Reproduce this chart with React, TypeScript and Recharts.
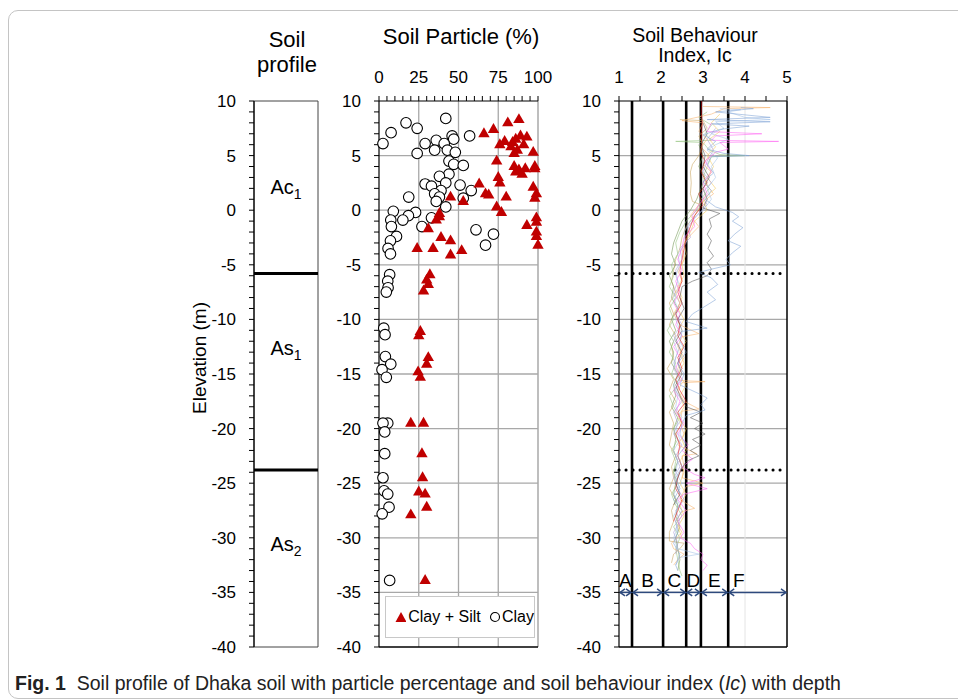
import React from 'react';
import {
  ComposedChart,
  Scatter,
  XAxis,
  YAxis,
  ReferenceLine,
  ReferenceArea,
  ReferenceDot,
} from 'recharts';

const FONT = '"Liberation Sans", Arial, Helvetica, sans-serif';

// elevation axis (m), shared by the three panels
const elevMajor = [10, 5, 0, -5, -10, -15, -20, -25, -30, -35, -40];
const elevMinor = Array.from({ length: 51 }, (_, i) => 10 - i);
const gridElev = [5, 0, -5, -10, -15, -20, -25, -30, -35];

// soil profile column
const layerBounds = [-5.8, -23.8];
const layerNames = ['Ac', 'As', 'As'];
const layerSubs = ['1', '1', '2'];
const layerLabelElev = [2.1, -12.6, -30.6];

// soil particle (%)
const pctMajor = [0, 25, 50, 75, 100];
const pctMinor = [0, 5, 10, 15, 20, 25, 30, 35, 40, 45, 50, 55, 60, 65, 70, 75, 80, 85, 90, 95, 100];
const pctGrid = [25, 50, 75];

// [percent, elevation]
const clay = [
  [42, 8.4], [17, 8.0], [24, 7.5], [7.6, 7.1], [46, 6.8], [57, 6.8], [2.5, 6.1], [36, 6.4],
  [47, 6.5], [29, 6.1], [41, 6.1], [24, 5.2], [35, 5.5], [43, 5.5], [48, 5.3], [44, 4.5],
  [47, 4.2], [53, 4.1], [44, 3.3], [38, 3.1], [29, 2.4], [33, 2.2], [42, 2.5], [51, 2.3],
  [58, 1.8], [39, 1.8], [35, 1.5], [38, 1.2], [36, 0.8], [53, 1.1], [18.7, 1.2], [42, 0.3],
  [9, -0.1], [23, -0.2], [18.5, -0.5], [7.4, -0.9], [15, -0.9], [33, -0.7], [7.8, -1.5],
  [27, -1.5], [11, -2.4], [7.2, -2.8], [61, -1.8], [72, -2.2], [67, -3.2], [5.7, -3.5],
  [7.2, -4.0], [6.7, -5.9], [5.5, -6.5], [5.7, -7.1], [4.6, -7.5], [3, -10.8], [3.8, -11.4],
  [4, -13.4], [7.4, -14.1], [1.9, -14.6], [4.6, -15.3], [5.5, -19.5], [2.5, -19.5],
  [3.6, -20.3], [3.6, -22.3], [2.5, -24.5], [3.2, -25.7], [5.5, -26.0], [6.3, -27.2],
  [2, -27.8], [6.7, -33.9],
];

const claySilt = [
  [88, 8.3], [81, 8.0], [72, 7.4], [66, 7.0], [89, 6.8], [93, 6.7], [79, 6.3], [84, 6.2],
  [76, 6.0], [87, 5.5], [97, 5.3], [85, 5.2], [74, 4.5], [85, 4.0], [88, 3.7], [98, 4.0],
  [90, 3.3], [75, 3.0], [76, 2.5], [63, 2.4], [67, 1.5], [69, 1.4], [80, 1.2], [97, 2.1],
  [99, 1.5], [98, 1.1], [45, 1.2], [53, 0.8], [74, 0.3], [77, -0.2], [38, -0.3], [38, -0.6],
  [36, -0.9], [31, -1.7], [99, -0.7], [99, -1.1], [93, -1.4], [99, -2.0], [99, -2.4],
  [39, -2.5], [45, -2.8], [24, -3.5], [34, -3.5], [52, -3.7], [45, -4.1], [100, -3.2],
  [86, 6.5], [91, 6.0], [83, 5.8], [92, 3.8], [86, 3.5], [98, 3.8],
  [32, -5.9], [30, -6.4], [31, -6.8], [28, -7.4], [26, -11.1], [25, -11.5], [31, -13.5],
  [30, -14.1], [24.6, -14.8], [26, -15.3], [20, -19.5], [28, -19.5], [27, -22.3],
  [27.4, -24.5], [25, -25.8], [29, -26.0], [30, -27.2], [20, -27.9], [29, -33.9],
];

// soil behaviour index
const icMajor = [1, 2, 3, 4, 5];
const icMinor = [1, 1.5, 2, 2.5, 3, 3.5, 4, 4.5, 5];
const zoneBounds = [1.31, 2.05, 2.6, 2.95, 3.6];
const zoneEdges = [1, 1.31, 2.05, 2.6, 2.95, 3.6, 5];
const zoneLetters = ['A', 'B', 'C', 'D', 'E', 'F'];
const zoneLetterIc = [1.15, 1.68, 2.32, 2.77, 3.27, 3.85];
const arrowElev = -35;

// CPT traces, [elevation, Ic]
const icBlue = [
  [9.4, 3.9], [9.3, 4.2], [9.0, 3.3], [8.5, 4.6], [8.3, 3.1], [8.1, 4.6], [7.9, 3.2], [7.7, 4.1],
  [7.4, 3.4], [6.9, 3.0], [6.3, 3.3], [5.6, 3.1], [5.2, 3.5], [5.0, 4.1], [4.9, 3.2], [4.2, 3.1],
  [3.4, 3.25], [2.6, 3.0], [1.8, 3.2], [1.0, 3.05], [0.3, 3.3], [-0.2, 3.7], [-0.6, 3.85],
  [-1.0, 3.7], [-1.6, 3.95], [-2.2, 3.75], [-2.8, 3.6], [-3.3, 3.9], [-3.9, 3.7], [-4.5, 3.55],
  [-5.0, 3.65], [-5.4, 3.2], [-5.7, 2.9], [-6.2, 3.2], [-6.8, 3.35], [-7.5, 3.1], [-8.2, 3.3],
  [-8.8, 3.05], [-9.5, 2.75], [-10.2, 2.6], [-10.8, 3.1], [-11.1, 2.5], [-12, 2.45], [-13, 2.6],
  [-14, 2.4], [-15, 2.55], [-16, 2.45], [-16.8, 2.9], [-17.2, 3.1], [-17.8, 2.95], [-18.3, 3.05],
  [-18.8, 2.6], [-19.5, 2.5], [-20.5, 2.45], [-21.5, 2.6], [-22.5, 2.4], [-23.5, 2.5],
  [-24.5, 2.35], [-25.5, 2.45], [-26.5, 2.3], [-27.5, 2.5], [-28.5, 2.35], [-29.5, 2.4],
  [-30.5, 2.3], [-31.5, 2.45], [-32.5, 2.35], [-33, 2.4],
];

const icBlack = [
  [8.0, 3.0], [7.0, 3.1], [6.0, 2.95], [5.0, 3.05], [4.0, 3.0], [3.0, 3.15], [2.0, 3.0],
  [1.0, 3.1], [0.2, 3.0], [-0.3, 3.4], [-0.8, 3.15], [-1.5, 3.2], [-2.2, 3.1], [-2.8, 3.2],
  [-3.5, 3.12], [-4.2, 3.25], [-4.8, 3.1], [-5.4, 3.2], [-6.0, 3.1], [-6.5, 2.75], [-7.0, 2.5],
  [-8, 2.45], [-9, 2.55], [-10, 2.4], [-11, 2.5], [-12, 2.35], [-13, 2.5], [-14, 2.4],
  [-15, 2.5], [-16, 2.35], [-17, 2.45], [-18, 2.6], [-18.5, 2.95], [-19, 2.7], [-19.5, 3.0],
  [-20, 2.8], [-20.5, 3.05], [-21, 2.75], [-21.5, 2.95], [-22, 2.7], [-22.5, 2.9], [-23, 2.6],
  [-24, 2.45], [-25, 2.35], [-26, 2.45], [-27, 2.3],
];

const icRed = [
  [10, 2.97], [9, 2.96], [8, 2.98], [7, 2.96], [6, 2.97], [5.2, 2.95], [4.5, 3.05], [3.5, 2.95],
  [2.5, 3.1], [1.5, 2.9], [0.5, 3.0], [-0.5, 2.8], [-1.5, 2.7], [-2.5, 2.6], [-3.5, 2.55],
  [-4.5, 2.5], [-5.5, 2.45], [-6.5, 2.5], [-7.5, 2.4], [-8.5, 2.5], [-9.5, 2.35], [-10.5, 2.45],
  [-11.5, 2.4], [-12.5, 2.55], [-13.5, 2.4], [-14.5, 2.5], [-15.5, 2.35], [-16.5, 2.45],
  [-17.5, 2.6], [-18.5, 2.4], [-19.5, 2.5], [-20.5, 2.35], [-21.5, 2.45], [-22.5, 2.4],
  [-23.5, 2.5], [-24.5, 2.4], [-25.5, 2.35], [-26.5, 2.5], [-27.5, 2.4], [-28.5, 2.3],
];

const icOrange = [
  [9.5, 3.0], [9.4, 4.6], [9.3, 3.5], [8.8, 3.2], [8.2, 2.5], [8.0, 3.0], [7.2, 2.9], [6.5, 3.1],
  [5.8, 2.95], [5.0, 3.15], [4.2, 3.0], [3.5, 3.2], [2.5, 3.05], [1.5, 3.25], [0.5, 2.9],
  [-0.5, 2.7], [-1.5, 2.9], [-2.5, 2.65], [-3.5, 2.5], [-4.5, 2.55], [-5.5, 2.4], [-6.5, 2.5],
  [-7.5, 2.35], [-8.5, 2.45], [-9.5, 2.3], [-10.5, 2.45], [-11.3, 2.9], [-11.6, 2.5],
  [-12.5, 2.4], [-13.5, 2.55], [-14.5, 2.4], [-15.6, 2.45], [-15.7, 3.05], [-15.8, 2.5],
  [-16.5, 2.4], [-17.5, 2.55], [-18.2, 2.9], [-18.4, 2.5], [-19.5, 2.45], [-20.5, 2.55],
  [-21.5, 2.4], [-22.3, 2.85], [-22.5, 2.5], [-23.5, 2.55], [-24.5, 2.5], [-25.0, 3.0],
  [-25.3, 2.6], [-26.5, 2.45], [-27.3, 2.8], [-27.6, 2.5], [-28.5, 2.35], [-29.5, 2.5],
  [-30.5, 2.25], [-31.0, 2.3], [-31.5, 2.55], [-32, 2.4], [-32.5, 2.3],
];

const icOlive = [
  [8.3, 2.45], [8.2, 3.0], [7.5, 3.1], [6.8, 2.9], [6.0, 3.0], [5.0, 2.9], [4.2, 2.75],
  [3.5, 2.7], [2.5, 2.72], [1.5, 2.7], [0.8, 2.75], [0.5, 2.95], [-0.5, 2.8], [-1.5, 2.6],
  [-2.5, 2.5], [-3.5, 2.45], [-4.5, 2.35], [-5.5, 2.3], [-6.5, 2.25], [-7.5, 2.35], [-8.5, 2.2],
  [-9.5, 2.3], [-10.5, 2.2], [-11.5, 2.35], [-12.5, 2.25], [-13.5, 2.3], [-14.5, 2.15],
  [-15.5, 2.3], [-16.5, 2.2], [-17.5, 2.35], [-18.5, 2.2], [-19.5, 2.3], [-20.5, 2.25],
  [-21.5, 2.2], [-22.5, 2.35], [-23.5, 2.25], [-24.5, 2.3], [-25.5, 2.2], [-26.5, 2.35],
  [-27.5, 2.25], [-28.5, 2.3], [-29.5, 2.2], [-30.3, 2.2], [-30.5, 2.55], [-31, 2.45],
  [-31.5, 2.3], [-32.3, 2.25],
];

const icGreen = [
  [9.0, 3.1], [8.5, 2.9], [7.8, 3.2], [7.0, 3.05], [6.4, 3.2], [6.3, 2.35], [6.2, 3.0],
  [5.5, 3.15], [5.1, 3.4], [5.0, 4.0], [4.9, 3.2], [4.0, 3.1], [3.0, 3.0], [2.0, 3.15],
  [1.0, 2.95], [0.0, 2.85], [-1.0, 2.6], [-2.0, 2.45], [-3.0, 2.35], [-4.0, 2.4], [-5.0, 2.25],
  [-6.0, 2.3], [-7.0, 2.2], [-8.0, 2.35], [-9.0, 2.2], [-10.0, 2.3], [-11.0, 2.15], [-12.0, 2.3],
  [-13.0, 2.2], [-14.0, 2.35], [-15.0, 2.25], [-16.0, 2.4], [-17.0, 2.2], [-18.0, 2.3],
  [-19.0, 2.45], [-20.0, 2.3], [-21.0, 2.4], [-22.0, 2.25], [-23.0, 2.35], [-24.0, 2.3],
  [-25.0, 2.4], [-26.0, 2.25], [-27.0, 2.35], [-28.0, 2.5], [-29.0, 2.3], [-30.0, 2.45],
  [-31.0, 2.35], [-32.0, 2.4], [-33.0, 2.45], [-33.5, 2.5],
];

const icMagenta = [
  [8.0, 3.2], [7.2, 3.1], [7.0, 4.4], [6.8, 3.3], [6.4, 3.2], [6.3, 4.8], [6.2, 3.4], [5.6, 3.6],
  [5.3, 3.3], [4.5, 3.05], [3.5, 3.2], [2.5, 3.0], [1.5, 3.1], [0.5, 2.9], [-0.5, 2.75],
  [-1.5, 2.8], [-2.5, 2.55], [-3.5, 2.5], [-4.5, 2.4], [-5.5, 2.5], [-6.5, 2.35], [-7.5, 2.45],
  [-8.5, 2.3], [-9.5, 2.45], [-10.5, 2.35], [-11.5, 2.5], [-12.5, 2.3], [-13.5, 2.45],
  [-14.5, 2.35], [-15.5, 2.5], [-16.5, 2.3], [-17.5, 2.45], [-18.5, 2.35], [-19.5, 2.55],
  [-20.5, 2.4], [-21.5, 2.65], [-22.0, 2.5], [-22.8, 2.75], [-23.5, 2.5], [-24.2, 2.8],
  [-24.5, 3.05], [-25.0, 2.6], [-25.5, 3.1], [-26.0, 2.55], [-26.5, 2.4], [-27.5, 2.6],
  [-28.5, 2.4], [-29.5, 2.55], [-30.0, 2.45], [-30.5, 2.7], [-31.0, 2.8], [-31.5, 3.0],
  [-32.0, 2.95], [-32.5, 3.1], [-33.0, 3.0],
];

const icLightBlue = [
  [9.3, 3.4], [9.2, 3.9], [9.0, 3.6], [8.5, 4.0], [8.3, 4.6], [8.1, 3.3], [7.5, 3.5], [7.0, 3.2],
  [6.5, 3.6], [6.0, 3.3], [5.5, 3.1], [4.8, 3.35], [4.0, 3.2], [3.0, 3.3], [2.0, 3.1],
  [1.0, 3.2], [0.0, 3.0], [-1.0, 2.7], [-2.0, 2.55], [-3.0, 2.6], [-4.0, 2.4], [-5.0, 2.45],
  [-6.0, 2.35], [-7.0, 2.45], [-8.0, 2.3], [-9.0, 2.4], [-10.0, 2.35], [-11.0, 2.45],
  [-12.0, 2.3], [-13.0, 2.4], [-14.0, 2.3], [-15.0, 2.45], [-16.0, 2.3], [-17.0, 2.4],
  [-18.0, 2.35], [-19.0, 2.5], [-20.0, 2.35], [-21.0, 2.45], [-22.0, 2.3], [-23.0, 2.4],
  [-24.0, 2.35], [-25.0, 2.5], [-26.0, 2.3], [-27.0, 2.45], [-28.0, 2.3], [-29.0, 2.4],
  [-30.0, 2.3], [-31.0, 2.4], [-31.5, 2.9], [-31.8, 2.45], [-32.5, 2.35],
];

const icDarkGreen = [
  [6.0, 2.9], [5.0, 3.0], [4.0, 2.9], [3.0, 3.05], [2.0, 2.95], [1.0, 2.85], [0.0, 2.7],
  [-1.0, 2.5], [-2.0, 2.4], [-3.0, 2.3], [-4.0, 2.25], [-5.0, 2.35], [-6.0, 2.2], [-7.0, 2.3],
  [-8.0, 2.25], [-9.0, 2.4], [-10.0, 2.25], [-11.0, 2.35], [-12.0, 2.2], [-13.0, 2.3],
  [-14.0, 2.25], [-15.0, 2.4], [-16.0, 2.3], [-17.0, 2.35], [-18.0, 2.25], [-19.0, 2.4],
  [-20.0, 2.3], [-21.0, 2.35], [-22.0, 2.3], [-23.0, 2.4], [-24.0, 2.3], [-25.0, 2.35],
  [-26.0, 2.3], [-27.0, 2.4], [-28.0, 2.35], [-29.0, 2.45], [-30.0, 2.35], [-31.0, 2.4],
  [-32.0, 2.45], [-33.0, 2.4],
];

const icPurple = [
  [7.5, 3.3], [6.5, 3.1], [5.5, 3.25], [4.5, 3.1], [3.5, 3.0], [2.5, 3.2], [1.5, 2.95],
  [0.5, 3.1], [-0.5, 2.85], [-1.5, 2.65], [-2.5, 2.7], [-3.5, 2.45], [-4.5, 2.5], [-5.5, 2.35],
  [-6.5, 2.4], [-7.5, 2.3], [-8.5, 2.45], [-9.5, 2.35], [-10.5, 2.5], [-11.5, 2.3],
  [-12.5, 2.45], [-13.5, 2.35], [-14.5, 2.3], [-15.5, 2.45], [-16.5, 2.35], [-17.5, 2.5],
  [-18.5, 2.3], [-19.5, 2.4], [-20.5, 2.3], [-21.5, 2.5], [-22.5, 2.35], [-23.5, 2.45],
  [-24.5, 2.3], [-25.5, 2.4], [-26.5, 2.55], [-27.5, 2.35], [-28.5, 2.45], [-29.5, 2.3],
  [-30.5, 2.4], [-31.5, 2.35],
];

const icYellow = [
  [8.8, 3.4], [8.0, 3.2], [7.2, 3.4], [6.5, 3.15], [5.8, 3.3], [5.0, 3.1], [4.0, 3.25],
  [3.0, 3.1], [2.0, 3.3], [1.0, 3.0], [0.0, 3.1], [-1.0, 2.8], [-2.0, 2.7], [-3.0, 2.55],
  [-4.0, 2.6], [-5.0, 2.5], [-6.0, 2.55], [-7.0, 2.4], [-8.0, 2.5], [-9.0, 2.4], [-10.0, 2.55],
  [-11.0, 2.4], [-12.0, 2.6], [-13.0, 2.45], [-14.0, 2.55], [-15.0, 2.4], [-16.0, 2.6],
  [-17.0, 2.45], [-18.0, 2.55], [-19.0, 2.4], [-20.0, 2.6], [-21.0, 2.5], [-22.0, 2.6],
  [-23.0, 2.45], [-24.0, 2.55], [-25.0, 2.45], [-26.0, 2.6], [-27.0, 2.45], [-28.0, 2.55],
  [-29.0, 2.4], [-30.0, 2.5],
];

const icTraces = [
  { name: 'olive', color: '#c9a45c', data: icOlive },
  { name: 'yellow', color: '#f3c95a', data: icYellow },
  { name: 'darkgreen', color: '#6f9450', data: icDarkGreen },
  { name: 'green', color: '#93c47d', data: icGreen },
  { name: 'purple', color: '#a898d8', data: icPurple },
  { name: 'orange', color: '#f6b26b', data: icOrange },
  { name: 'lightblue', color: '#a4c2e8', data: icLightBlue },
  { name: 'red', color: '#e01010', data: icRed },
  { name: 'magenta', color: '#ff66f2', data: icMagenta },
  { name: 'black', color: '#555', data: icBlack },
  { name: 'blue', color: '#7fa3d6', data: icBlue },
];

const toXY = (pairs: number[][]) => pairs.map(([x, y]) => ({ x, y }));
const toXYflip = (pairs: number[][]) => pairs.map(([y, x]) => ({ x, y }));
const layerLabelPts = layerNames.map((n, i) => ({ x: 0.5, y: layerLabelElev[i], n, s: layerSubs[i] }));

const gridGray = '#a8a8a8';

const elevAxis = (width: number) => (
  <YAxis
    type="number"
    dataKey="y"
    domain={[-40, 10]}
    ticks={elevMinor}
    interval={0}
    allowDataOverflow
    tickFormatter={(v: number) => (elevMajor.includes(v) ? String(v) : '')}
    width={width}
    tickSize={5}
    tickMargin={13}
    axisLine={{ stroke: '#000', strokeWidth: 1.2 }}
    tickLine={{ stroke: '#000' }}
    tick={{ fontSize: 17, fill: '#000' }}
  />
);

const CircleShape = (p: any) => (
  <circle cx={p.cx} cy={p.cy} r={5.3} fill="#fff" stroke="#000" strokeWidth={1.1} />
);

const TriangleShape = (p: any) => (
  <polygon
    points={`${p.cx},${p.cy - 6.4} ${p.cx - 5.7},${p.cy + 3.5} ${p.cx + 5.7},${p.cy + 3.5}`}
    fill="#c00000"
  />
);

const LayerLabel = (p: any) => (
  <text x={p.cx} y={p.cy + 7} textAnchor="middle" fontSize={20} fill="#000">
    {p.payload.n}
    <tspan fontSize={14} dy={5}>
      {p.payload.s}
    </tspan>
  </text>
);

const NoShape = () => <g />;

const ArrowShape = (p: any) => {
  const { x1, y1, x2 } = p;
  const c = '#2e4a7d';
  return (
    <g stroke={c} strokeWidth={1.5} fill="none">
      <line x1={x1 + 1} y1={y1} x2={x2 - 1} y2={y1} />
      <polyline points={`${x1 + 6},${y1 - 3.5} ${x1 + 1},${y1} ${x1 + 6},${y1 + 3.5}`} />
      <polyline points={`${x2 - 6},${y1 - 3.5} ${x2 - 1},${y1} ${x2 - 6},${y1 + 3.5}`} />
    </g>
  );
};

const DottedLine = (p: any) => (
  <line
    x1={p.x1}
    y1={p.y1}
    x2={p.x2}
    y2={p.y2}
    stroke="#000"
    strokeWidth={3}
    strokeDasharray="0.1 6.9"
    strokeLinecap="round"
  />
);

const SoilProfile = () => (
  <ComposedChart width={139} height={660} margin={{ top: 101, right: 1, bottom: 13, left: 0 }}>
    <XAxis type="number" dataKey="x" domain={[0, 1]} hide />
    {elevAxis(74)}
    <ReferenceArea x1={0} x2={1} y1={-40} y2={10} fill="none" stroke="#444" strokeWidth={1} />
    {layerBounds.map((b) => (
      <ReferenceLine key={b} y={b} stroke="#000" strokeWidth={3} />
    ))}
    <Scatter data={layerLabelPts} shape={LayerLabel} isAnimationActive={false} />
  </ComposedChart>
);

const ParticlePanel = () => (
  <ComposedChart width={222} height={660} margin={{ top: 71, right: 18, bottom: 13, left: 0 }}>
    <XAxis
      type="number"
      dataKey="x"
      orientation="top"
      domain={[0, 100]}
      ticks={pctMinor}
      interval={0}
      tickFormatter={(v: number) => (pctMajor.includes(v) ? String(v) : '')}
      height={30}
      tickSize={5}
      tickMargin={13}
      axisLine={{ stroke: '#000', strokeWidth: 1.2 }}
      tickLine={{ stroke: '#000' }}
      tick={{ fontSize: 17, fill: '#000' }}
    />
    {elevAxis(45)}
    {gridElev.map((g) => (
      <ReferenceLine key={'h' + g} y={g} stroke={gridGray} strokeWidth={1.3} />
    ))}
    {pctGrid.map((g) => (
      <ReferenceLine key={'v' + g} x={g} stroke={gridGray} strokeWidth={1.3} />
    ))}
    <ReferenceLine x={100} stroke={gridGray} strokeWidth={1.5} />
    <ReferenceLine y={-40} stroke="#000" strokeWidth={1.5} />
    <Scatter data={toXY(clay)} shape={CircleShape} isAnimationActive={false} />
    <Scatter data={toXY(claySilt)} shape={TriangleShape} isAnimationActive={false} />
  </ComposedChart>
);

const IcPanel = () => (
  <ComposedChart width={225} height={660} margin={{ top: 71, right: 12, bottom: 13, left: 0 }}>
    <XAxis
      type="number"
      dataKey="x"
      orientation="top"
      domain={[1, 5]}
      ticks={icMinor}
      interval={0}
      allowDataOverflow
      tickFormatter={(v: number) => (icMajor.includes(v) ? String(v) : '')}
      height={30}
      tickSize={5}
      tickMargin={13}
      axisLine={{ stroke: '#000', strokeWidth: 1.2 }}
      tickLine={{ stroke: '#000' }}
      tick={{ fontSize: 17, fill: '#000' }}
    />
    {elevAxis(45)}
    {gridElev.map((g) => (
      <ReferenceLine key={'h' + g} y={g} stroke={gridGray} strokeWidth={1.3} />
    ))}
    <ReferenceLine x={4} stroke="#e4e4e4" strokeWidth={1} />
    {icTraces.map((t) => (
      <Scatter
        key={t.name}
        data={toXYflip(t.data)}
        fill={t.color}
        shape={NoShape}
        line={{ stroke: t.color, strokeWidth: 0.7, strokeOpacity: 0.8 }}
        isAnimationActive={false}
      />
    ))}
    {zoneBounds.map((b) => (
      <ReferenceLine key={'z' + b} x={b} stroke="#000" strokeWidth={2.6} />
    ))}
    <ReferenceLine x={5} stroke="#000" strokeWidth={1.5} />
    <ReferenceLine y={-40} stroke="#000" strokeWidth={1.5} />
    {layerBounds.map((b) => (
      <ReferenceLine key={'d' + b} y={b} shape={DottedLine} />
    ))}
    {zoneLetters.map((l, i) => (
      <ReferenceLine
        key={'a' + l}
        segment={[
          { x: zoneEdges[i], y: arrowElev },
          { x: zoneEdges[i + 1], y: arrowElev },
        ]}
        shape={ArrowShape}
      />
    ))}
    {zoneLetters.map((l, i) => (
      <ReferenceDot
        key={'l' + l}
        x={zoneLetterIc[i]}
        y={arrowElev}
        r={0}
        shape={(p: any) => (
          <text x={p.cx} y={p.cy - 5} textAnchor="middle" fontSize={19} fill="#000">
            {l}
          </text>
        )}
      />
    ))}
  </ComposedChart>
);

const abs = (left: number, top: number): React.CSSProperties => ({ position: 'absolute', left, top });

const LegendBox = () => (
  <div
    style={{
      position: 'absolute',
      left: 385,
      top: 596,
      width: 150,
      height: 42,
      boxSizing: 'border-box',
      border: '1.5px solid #c8c8c8',
      background: '#fff',
      display: 'flex',
      alignItems: 'center',
      fontSize: 16,
      whiteSpace: 'nowrap',
    }}
  >
    <svg width={12} height={12} style={{ marginLeft: 9, marginRight: 2 }}>
      <polygon points="6,1 0.5,11 11.5,11" fill="#c00000" />
    </svg>
    <span>Clay + Silt</span>
    <svg width={12} height={12} style={{ marginLeft: 8, marginRight: 2 }}>
      <circle cx={6} cy={6} r={4.5} fill="#fff" stroke="#000" strokeWidth={1.1} />
    </svg>
    <span>Clay</span>
  </div>
);

export default function App() {
  return (
    <div
      style={{
        position: 'absolute',
        left: 0,
        top: 0,
        width: 958,
        height: 700,
        overflow: 'hidden',
        background: '#fff',
        fontFamily: FONT,
        color: '#000',
      }}
    >
      <div
        style={{
          position: 'absolute',
          left: 8,
          top: 10,
          width: 990,
          height: 687,
          border: '1px solid #c4c4c4',
          borderRadius: 10,
        }}
      />
      <div style={{ ...abs(287, 27), transform: 'translateX(-50%)', textAlign: 'center', fontSize: 22, lineHeight: '25px' }}>
        Soil
        <br />
        profile
      </div>
      <div style={{ ...abs(461, 25), transform: 'translateX(-50%)', fontSize: 22, lineHeight: '24px', whiteSpace: 'nowrap' }}>
        Soil Particle (%)
      </div>
      <div style={{ ...abs(695, 25), transform: 'translateX(-50%)', textAlign: 'center', fontSize: 19.5, lineHeight: '20px', whiteSpace: 'nowrap' }}>
        Soil Behaviour
        <br />
        Index, Ic
      </div>
      <div
        style={{
          ...abs(200, 358),
          transform: 'translate(-50%, -50%) rotate(-90deg)',
          fontSize: 19,
          whiteSpace: 'nowrap',
        }}
      >
        Elevation (m)
      </div>
      <div style={abs(180, 0)}>
        <SoilProfile />
      </div>
      <div style={abs(334, 0)}>
        <ParticlePanel />
      </div>
      <div style={abs(574, 0)}>
        <IcPanel />
      </div>
      <LegendBox />
      <div
        style={{
          ...abs(15, 672),
          fontSize: 19.5,
          lineHeight: '22px',
          whiteSpace: 'nowrap',
          color: '#222',
        }}
      >
        <b>Fig. 1</b>&nbsp; Soil profile of Dhaka soil with particle percentage and soil behaviour index (<i>Ic</i>) with depth
      </div>
    </div>
  );
}
